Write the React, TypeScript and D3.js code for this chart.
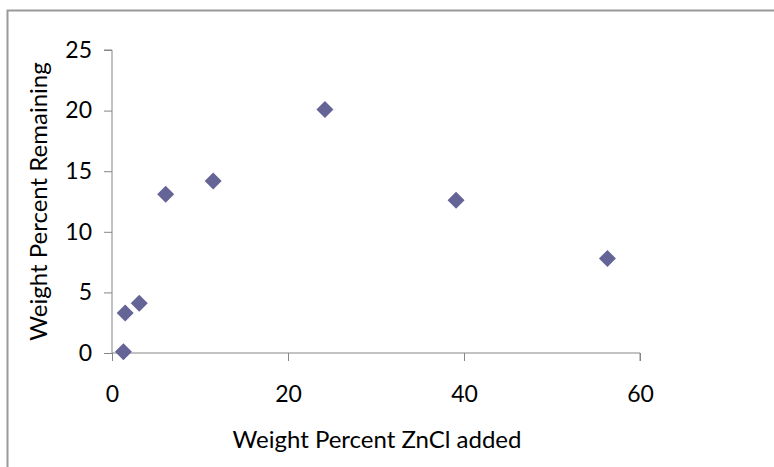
import { useEffect, useRef } from "react"
import * as d3 from "d3"

const zncl = [1.3, 1.5, 3.1, 6.1, 11.5, 24.2, 39.1, 56.3]
const remaining = [0.1, 3.3, 4.1, 13.1, 14.2, 20.1, 12.6, 7.8]
const xTicks = [0, 20, 40, 60]
const yTicks = [0, 5, 10, 15, 20, 25]

export default function App() {
    const ref = useRef<SVGSVGElement>(null)

    useEffect(() => {
        const svg = d3.select(ref.current)
        svg.selectAll("*").remove()

        const left = 112, right = 640, top = 50, bottom = 353
        const font = "Lato, 'Open Sans', sans-serif"
        const axisColor = "#868686"

        const x = d3.scaleLinear().domain([0, 60]).range([left, right])
        const y = d3.scaleLinear().domain([0, 25]).range([bottom, top])

        // frame
        svg.append("path")
            .attr("d", "M7.5 480 V10.5 H780")
            .attr("fill", "none")
            .attr("stroke", "#999")
            .attr("stroke-width", 2)

        const gx = svg.append("g").attr("transform", `translate(0,${bottom})`)
            .call(d3.axisBottom(x).tickValues(xTicks).tickSize(8).tickPadding(25))
        const gy = svg.append("g").attr("transform", `translate(${left},0)`)
            .call(d3.axisLeft(y).tickValues(yTicks).tickSize(8).tickPadding(12))

        for (const g of [gx, gy]) {
            g.select(".domain").attr("stroke", axisColor)
            g.selectAll(".tick line").attr("stroke", axisColor)
            g.selectAll(".tick text")
                .attr("fill", "#000")
                .style("font-family", font)
                .style("font-size", "23px")
        }
        gx.select(".domain").attr("d", `M${left},0H${right}V8`)
        gy.select(".domain").attr("d", `M-8,${top}H0V${bottom}`)

        svg.append("g")
            .selectAll("path")
            .data(zncl.map((v, i) => [v, remaining[i]]))
            .join("path")
                .attr("d", "M0,-8.5L8.5,0L0,8.5L-8.5,0Z")
                .attr("transform", d => `translate(${x(d[0])},${y(d[1])})`)
                .attr("fill", "#646497")

        svg.append("text")
            .attr("x", 377)
            .attr("y", 448)
            .attr("text-anchor", "middle")
            .style("font-family", font)
            .style("font-size", "24px")
            .text("Weight Percent ZnCl added")

        svg.append("text")
            .attr("transform", `translate(47,${(top + bottom) / 2}) rotate(-90)`)
            .attr("text-anchor", "middle")
            .style("font-family", font)
            .style("font-size", "24px")
            .text("Weight Percent Remaining")
    })

    return (
        <svg ref={ref} width={774} height={467}
            style={{ position: "absolute", left: 0, top: 0, background: "#fff" }} />
    )
}
